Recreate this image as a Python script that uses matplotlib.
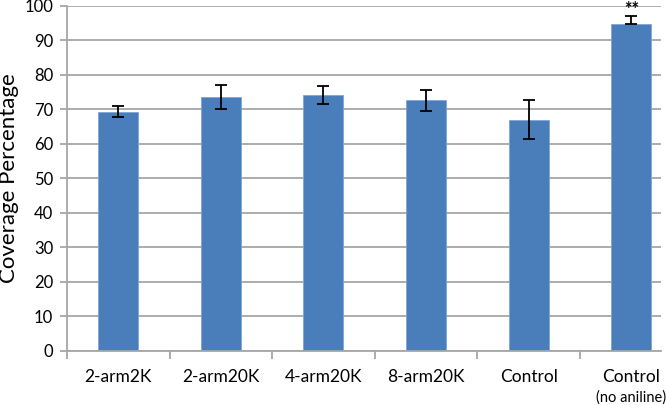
import matplotlib
matplotlib.use("Agg")
import matplotlib.pyplot as plt
import numpy as np

categories = ["2-arm2K", "2-arm20K", "4-arm20K", "8-arm20K", "Control", "Control"]
sublabel = "(no aniline)"
values = [69.3, 73.6, 74.2, 72.6, 67.0, 94.8]
err_low = [1.6, 3.4, 2.5, 3.0, 5.6, 0.0]
err_high = [1.7, 3.4, 2.5, 3.0, 5.6, 2.2]
yticks = [0, 10, 20, 30, 40, 50, 60, 70, 80, 90, 100]
annot = "**"

plt.rcParams['font.family'] = ['Lato', 'DejaVu Sans']

fig = plt.figure(figsize=(6.66, 4.05), dpi=100)
ax = fig.add_axes([67/666, 1-350.7/405, (661-67)/666, (350.7-6)/405])

x = np.arange(len(categories))
grid_c = "#A6A6A6"
ax.set_axisbelow(True)
ax.yaxis.grid(True, color=grid_c, linewidth=1.3)
ax.bar(x, values, width=0.39, color="#4A7EBB", edgecolor="#7FA6D6", linewidth=0.6, zorder=2)
ax.errorbar(x, values, yerr=[err_low, err_high], fmt="none", ecolor="black",
            elinewidth=1.3, capsize=4.5, capthick=1.3, zorder=3)

ax.text(x[-1], values[-1] + err_high[-1] - 0.4, annot, ha="center", va="bottom",
        fontsize=13, fontweight="bold")

ax.set_ylim(0, 100)
ax.set_xlim(-0.5, 5.29)
ax.set_yticks(yticks)
ax.tick_params(axis="y", length=5, color=grid_c, width=1.3, labelsize=12, pad=5)

ax.set_xticks(np.arange(-0.5, 5.5, 1.0))
ax.set_xticklabels([])
ax.set_xticks(x, minor=True)
ax.set_xticklabels(categories, minor=True)
ax.tick_params(axis="x", which="major", length=6, color=grid_c, width=1.3)
ax.tick_params(axis="x", which="minor", length=0, labelsize=12.5, pad=13)
ax.text(x[-1], -13.5, sublabel, ha="center", va="center", fontsize=10.5,
        transform=ax.transData)

for s in ["top", "right"]:
    ax.spines[s].set_visible(False)
ax.spines["left"].set_color(grid_c)
ax.spines["bottom"].set_color(grid_c)
ax.spines["left"].set_linewidth(1.3)
ax.spines["bottom"].set_linewidth(1.3)

ax.set_ylabel("Coverage Percentage", fontsize=16, labelpad=4)

fig.savefig("out.png", dpi=100)
